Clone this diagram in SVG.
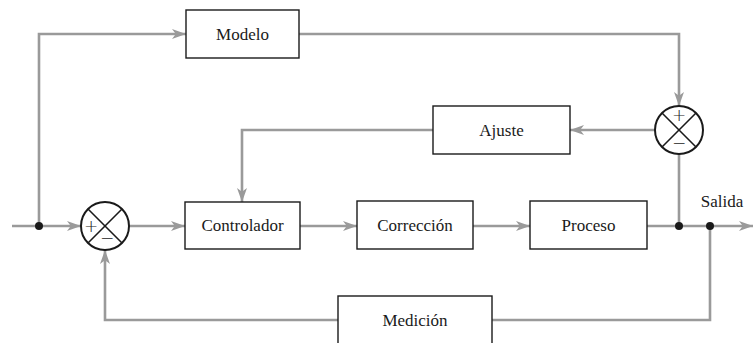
<svg xmlns="http://www.w3.org/2000/svg" width="755" height="343" viewBox="0 0 755 343">
<style>
.box{fill:#fff;stroke:#1a1a1a;stroke-width:1.4}
.lbl{font-family:"Liberation Serif",serif;font-size:17px;fill:#1a1a1a;text-anchor:middle}
.sgn{font-family:"DejaVu Sans",sans-serif;font-size:17px;font-weight:300;fill:#1a1a1a;text-anchor:middle}
.w{fill:none;stroke:#9a9a9a;stroke-width:2.6}
.sum{fill:#fff;stroke:#1a1a1a;stroke-width:2}
.x{stroke:#1a1a1a;stroke-width:1.6}
.dot{fill:#1a1a1a}
</style>
<defs>
<marker id="ah" markerUnits="userSpaceOnUse" markerWidth="15" markerHeight="11" refX="14" refY="5.5" orient="auto">
<path d="M0,0.5 L14,5.5 L0,10.5 L3.8,5.5 Z" fill="#9a9a9a"/>
</marker>
</defs>
<g id="connectors">
<path class="w" d="M12,226 L81,226" marker-end="url(#ah)"/>
<path class="w" d="M39,226 L39,34 L186,34" marker-end="url(#ah)"/>
<path class="w" d="M299,34 L679,34 L679,106" marker-end="url(#ah)"/>
<path class="w" d="M655,130 L570,130" marker-end="url(#ah)"/>
<path class="w" d="M433,130 L242,130 L242,202" marker-end="url(#ah)"/>
<path class="w" d="M129,226 L185,226" marker-end="url(#ah)"/>
<path class="w" d="M300,226 L357,226" marker-end="url(#ah)"/>
<path class="w" d="M473,226 L530,226" marker-end="url(#ah)"/>
<path class="w" d="M647,226 L753,226" marker-end="url(#ah)"/>
<path class="w" d="M679,226 L679,154"/>
<path class="w" d="M710,226 L710,320 L492,320"/>
<path class="w" d="M338,320 L105,320 L105,250" marker-end="url(#ah)"/>
<circle class="dot" cx="39" cy="226" r="4"/>
<circle class="dot" cx="679" cy="226" r="4"/>
<circle class="dot" cx="710" cy="226" r="4"/>
</g>
<g id="modelo"><rect class="box" x="186" y="10" width="113" height="48"/><text class="lbl" x="242.5" y="40">Modelo</text></g>
<g id="ajuste"><rect class="box" x="433" y="106" width="137" height="48"/><text class="lbl" x="501.5" y="136">Ajuste</text></g>
<g id="controlador"><rect class="box" x="185" y="202" width="115" height="47"/><text class="lbl" x="242.5" y="231">Controlador</text></g>
<g id="correccion"><rect class="box" x="357" y="201" width="116" height="48"/><text class="lbl" x="415" y="231">Corrección</text></g>
<g id="proceso"><rect class="box" x="530" y="201" width="117" height="48"/><text class="lbl" x="588.5" y="231">Proceso</text></g>
<g id="medicion"><rect class="box" x="338" y="296" width="154" height="52"/><text class="lbl" x="415" y="326">Medición</text></g>
<g id="sum1">
<circle class="sum" cx="105" cy="226" r="24"/>
<line class="x" x1="88" y1="209" x2="122" y2="243"/>
<line class="x" x1="122" y1="209" x2="88" y2="243"/>
<text class="sgn" x="91" y="232">+</text>
<text class="sgn" x="107" y="244">−</text>
</g>
<g id="sum2">
<circle class="sum" cx="679" cy="130" r="24"/>
<line class="x" x1="662" y1="113" x2="696" y2="147"/>
<line class="x" x1="696" y1="113" x2="662" y2="147"/>
<text class="sgn" x="679" y="121">+</text>
<text class="sgn" x="679" y="149">−</text>
</g>
<g id="salida"><text class="lbl" x="722" y="207">Salida</text></g>
</svg>
